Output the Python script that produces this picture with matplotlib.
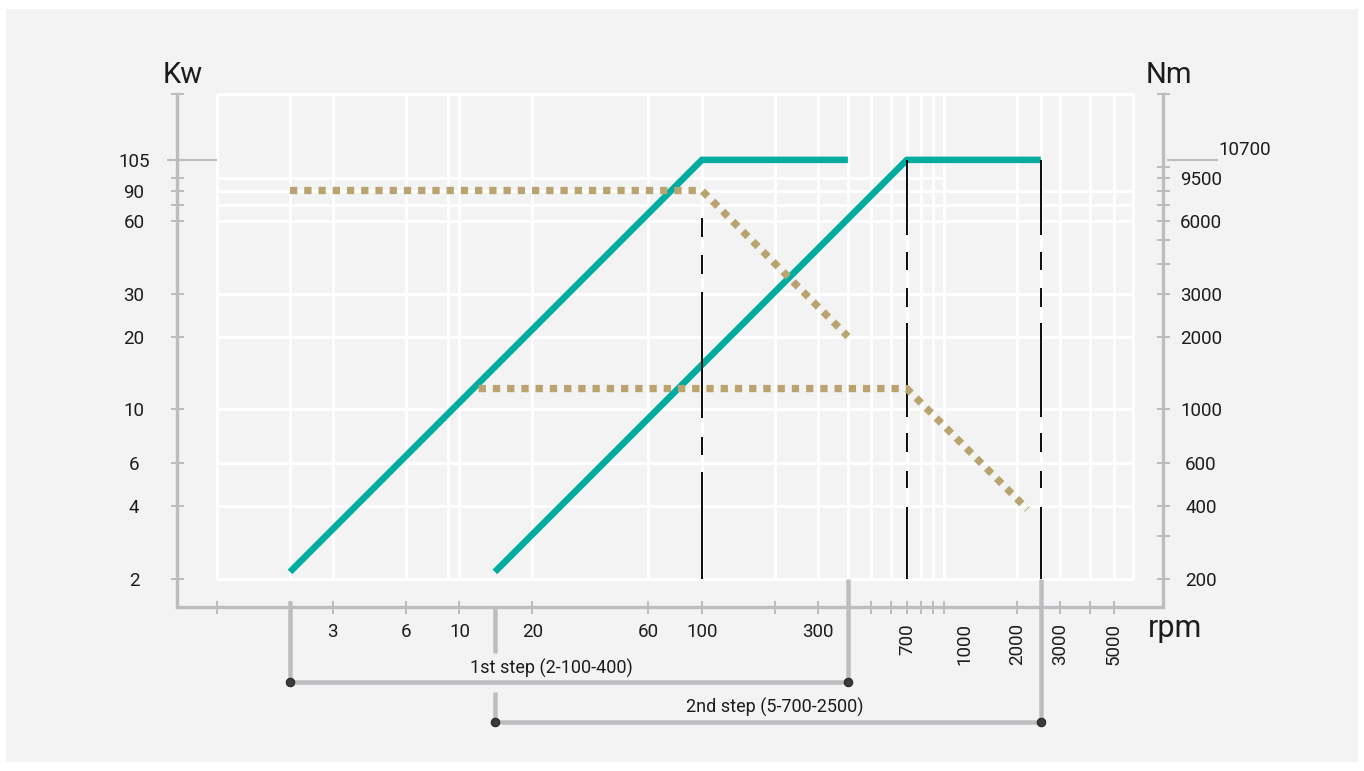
import numpy as np
import matplotlib
matplotlib.use("Agg")
import matplotlib.pyplot as plt
from matplotlib.patches import Rectangle
from matplotlib.ticker import NullLocator
from matplotlib.transforms import blended_transform_factory, ScaledTranslation

# ---- data ----
# power curves (kW) of the two gear steps
step1_rpm = [2, 100, 400]
step1_kw = [2.14, 107, 107]
step2_rpm = [14, 700, 2500]
step2_kw = [2.14, 107, 107]

# torque curves (Nm)
torque1_rpm = [2, 100, 400]
torque1_nm = [8000, 8000, 2000]
torque2_rpm = [12, 700, 2200]
torque2_nm = [1220, 1220, 388]

# black marker lines: rpm and the visible pieces (kW top, kW bottom)
mark100_rpm = [100]
mark100_segs = [(61.6, 51.4), (43.4, 36.2), (30.5, 9.2), (7.7, 6.5), (5.5, 2)]
mark_rpm = [700, 2500]
mark_segs = [(107, 52.4), (44.6, 37.6), (31.7, 26.5), (22.7, 9.3),
             (8.0, 6.7), (5.6, 4.75), (3.96, 2)]

grid_rpm = [1, 2, 3, 6, 9, 10, 20, 60, 100, 200, 300, 400, 500, 600, 700,
            800, 900, 1000, 2000, 2500, 3000, 4000, 5000, 6000]
grid_kw = [2, 4, 6, 10, 20, 30, 60, 70, 80, 200]
grid_kw_short = [90]          # only drawn up to 1000 rpm

x_ticks = [1, 2, 3, 6, 10, 20, 60, 100, 200, 300, 500, 600, 700, 800, 900,
           1000, 2000, 3000, 4000, 5000]
x_label_vals = [3, 6, 10, 20, 60, 100, 300, 700, 1000, 2000, 3000, 5000]
x_labels = ['3', '6', '10', '20', '60', '100', '300', '700', '1000', '2000', '3000', '5000']

kw_ticks = [2, 4, 6, 10, 20, 30, 60, 70, 80, 90, 107, 200]
kw_labels = ['2', '4', '6', '10', '20', '30', '60', '', '90', '', '105', '']
nm_ticks = [200, 300, 400, 600, 1000, 2000, 3000, 4000, 5000, 6000, 7000,
            8000, 9000, 10000, 20000]
nm_labels = ['200', '', '400', '600', '1000', '2000', '3000', '', '', '6000',
             '', '', '9500', '', '']
nm_max, nm_max_label = 10700, '10700'

steps = [("1st step (2-100-400)", 2, 400), ("2nd step (5-700-2500)", 14, 2500)]

# ---- style / layout ----
W, H, DPI = 1364, 771, 100
L, R, T, B = 217, 1133, 94, 579      # plot box in pixels
PX = 72 / DPI                         # points per pixel
XMIN, XMAX, YMIN, YMAX = 1, 6000, 2, 200

TEAL = '#00aba0'
TAN = '#b9a470'
GRAY = '#bdbdc1'
TXT = '#1c1c1c'
PANEL = '#f3f3f3'

plt.rcParams['font.family'] = ['Liberation Sans Narrow', 'Roboto', 'DejaVu Sans']


def x_at(px):
    return XMIN * 10 ** ((px - L) / (R - L) * np.log10(XMAX / XMIN))


def y_at(py):
    return YMIN * 10 ** ((B - py) / (B - T) * np.log10(YMAX / YMIN))


def yfrac(py):
    return (B - py) / (B - T)


fig = plt.figure(figsize=(W / DPI, H / DPI), dpi=DPI, facecolor='white')
fig.patches.append(Rectangle((6 / W, 1 - 762 / H), 1352 / W, 753 / H,
                             transform=fig.transFigure, facecolor=PANEL,
                             edgecolor='none', zorder=-5))

ax = fig.add_axes([L / W, 1 - B / H, (R - L) / W, (B - T) / H])
ax.set_facecolor('none')
ax.set_xscale('log')
ax.set_yscale('log')
ax.set_xlim(XMIN, XMAX)
ax.set_ylim(YMIN, YMAX)

# spines as a U shape around the grid
ax.spines['top'].set_visible(False)
ax.spines['right'].set_visible(False)
for s in ['left', 'bottom']:
    ax.spines[s].set_color(GRAY)
    ax.spines[s].set_linewidth(3.3 * PX)
ax.spines['left'].set_position(('outward', 40 * PX))
ax.spines['bottom'].set_position(('outward', 28 * PX))
ax.spines['left'].set_bounds(y_at(607), YMAX)
ax.spines['bottom'].set_bounds(x_at(177), x_at(1163))

ax.set_xticks(x_ticks, [''] * len(x_ticks))
ax.xaxis.set_minor_locator(NullLocator())
ax.set_yticks(kw_ticks, kw_labels)
ax.yaxis.set_minor_locator(NullLocator())
ax.tick_params(axis='both', direction='inout', length=13 * PX, width=2 * PX, color=GRAY)
ax.tick_params(axis='y', labelsize=13.5, labelcolor=TXT, pad=36.5 * PX)
for lbl in ax.get_yticklabels():
    lbl.set_horizontalalignment('center')

# right axis in Nm
ax2 = ax.twinx()
ax2.set_yscale('log')
ax2.set_ylim(YMIN * 100, YMAX * 100)
for s in ['top', 'left', 'bottom']:
    ax2.spines[s].set_visible(False)
ax2.spines['right'].set_color(GRAY)
ax2.spines['right'].set_linewidth(3.3 * PX)
ax2.spines['right'].set_position(('outward', 30 * PX))
ax2.spines['right'].set_bounds(y_at(607) * 100, YMAX * 100)
ax2.set_yticks(nm_ticks, nm_labels)
ax2.yaxis.set_minor_locator(NullLocator())
ax2.tick_params(axis='y', direction='inout', length=13 * PX, width=2 * PX, color=GRAY,
                labelsize=13.5, labelcolor=TXT, pad=31.5 * PX)
for lbl in ax2.get_yticklabels():
    lbl.set_horizontalalignment('center')

# white grid
ax.vlines(grid_rpm, YMIN, YMAX, colors='white', lw=3 * PX, zorder=1, clip_on=False)
ax.hlines(grid_kw, XMIN, XMAX, colors='white', lw=3 * PX, zorder=1, clip_on=False)
ax.hlines(grid_kw_short, XMIN, 1000, colors='white', lw=3 * PX, zorder=1, clip_on=False)

# long marks at the rated values
trL = blended_transform_factory(ax.transAxes, ax.transData)
ax.plot([(167 - L) / (R - L), 0], [kw_ticks[-2]] * 2, transform=trL, color=GRAY,
        lw=2.2 * PX, clip_on=False, solid_capstyle='butt')
trR = blended_transform_factory(ax2.transAxes, ax2.transData)
ax2.plot([(1167 - L) / (R - L), (1218 - L) / (R - L)], [nm_max] * 2, transform=trR,
         color=GRAY, lw=2.2 * PX, clip_on=False, solid_capstyle='butt')
ax2.text((1218 - L) / (R - L), nm_max * 1.01, nm_max_label, transform=trR, ha='left',
         va='bottom', fontsize=13.5, color=TXT)

# power curves
ax.plot(step1_rpm, step1_kw, color=TEAL, lw=6.5 * PX, solid_capstyle='butt',
        solid_joinstyle='miter', zorder=3, clip_on=False)
ax.plot(step2_rpm, step2_kw, color=TEAL, lw=6.5 * PX, solid_capstyle='butt',
        solid_joinstyle='miter', zorder=3, clip_on=False)

# black marker lines
for top, bot in mark100_segs:
    ax.vlines(mark100_rpm, bot, top, colors='#111111', lw=2 * PX, zorder=4)
for top, bot in mark_segs:
    ax.vlines(mark_rpm, bot, top, colors='#111111', lw=2 * PX, zorder=4)

# torque curves on the Nm axis
for rpm, nm in [(torque1_rpm, torque1_nm), (torque2_rpm, torque2_nm)]:
    ax2.plot(rpm, nm, color=TAN, lw=7.3 * PX, linestyle=(0, (1.0, 0.95)),
             dash_capstyle='butt', zorder=5)

# x tick labels
trX = blended_transform_factory(ax.transData, ax.transAxes)
for v, lab in zip(x_label_vals, x_labels):
    rot = 90 if v >= 700 else 0
    tr = trX
    if lab == '1000':
        tr = trX + ScaledTranslation(20 / DPI, 0, fig.dpi_scale_trans)
    ax.text(v, yfrac(623), lab, transform=tr, ha='center', va='top',
            rotation=rot, fontsize=13.5, color=TXT)

# axis titles
fig.text(183 / W, 1 - 83 / H, 'Kw', ha='center', va='baseline', fontsize=21, color=TXT)
fig.text(1169 / W, 1 - 83 / H, 'Nm', ha='center', va='baseline', fontsize=21, color=TXT)
fig.text(1148 / W, 1 - 637 / H, 'rpm', ha='left', va='baseline', fontsize=22, color=TXT)

# step brackets
bracket_y = [682, 722]
lo_top = [601, 607]
lo_gap = [None, (653, 692)]
text_pos = [(551, 668), (775, 707)]
for i, (label, lo, hi) in enumerate(steps):
    yb = yfrac(bracket_y[i])
    if lo_gap[i] is None:
        ax.plot([lo, lo], [yfrac(lo_top[i]), yb], transform=trX, color=GRAY,
                lw=4.5 * PX, clip_on=False, solid_capstyle='butt')
    else:
        g0, g1 = lo_gap[i]
        ax.plot([lo, lo], [yfrac(lo_top[i]), yfrac(g0)], transform=trX, color=GRAY,
                lw=4.5 * PX, clip_on=False, solid_capstyle='butt')
        ax.plot([lo, lo], [yfrac(g1), yb], transform=trX, color=GRAY,
                lw=4.5 * PX, clip_on=False, solid_capstyle='butt')
    ax.plot([hi, hi], [0, yb], transform=trX, color=GRAY, lw=4.5 * PX,
            clip_on=False, solid_capstyle='butt', zorder=2.6)
    ax.plot([lo, hi], [yb, yb], transform=trX, color=GRAY, lw=4.5 * PX,
            clip_on=False, solid_capstyle='butt')
    ax.plot([lo, hi], [yb, yb], transform=trX, lw=0, marker='o', ms=8.5 * PX,
            mfc='#3a3a3a', mec='#222222', mew=1 * PX, clip_on=False, zorder=6)
    tx, ty = text_pos[i]
    fig.text(tx / W, 1 - ty / H, label, ha='center', va='center', fontsize=13, color=TXT)

fig.savefig('out.png', dpi=DPI)
